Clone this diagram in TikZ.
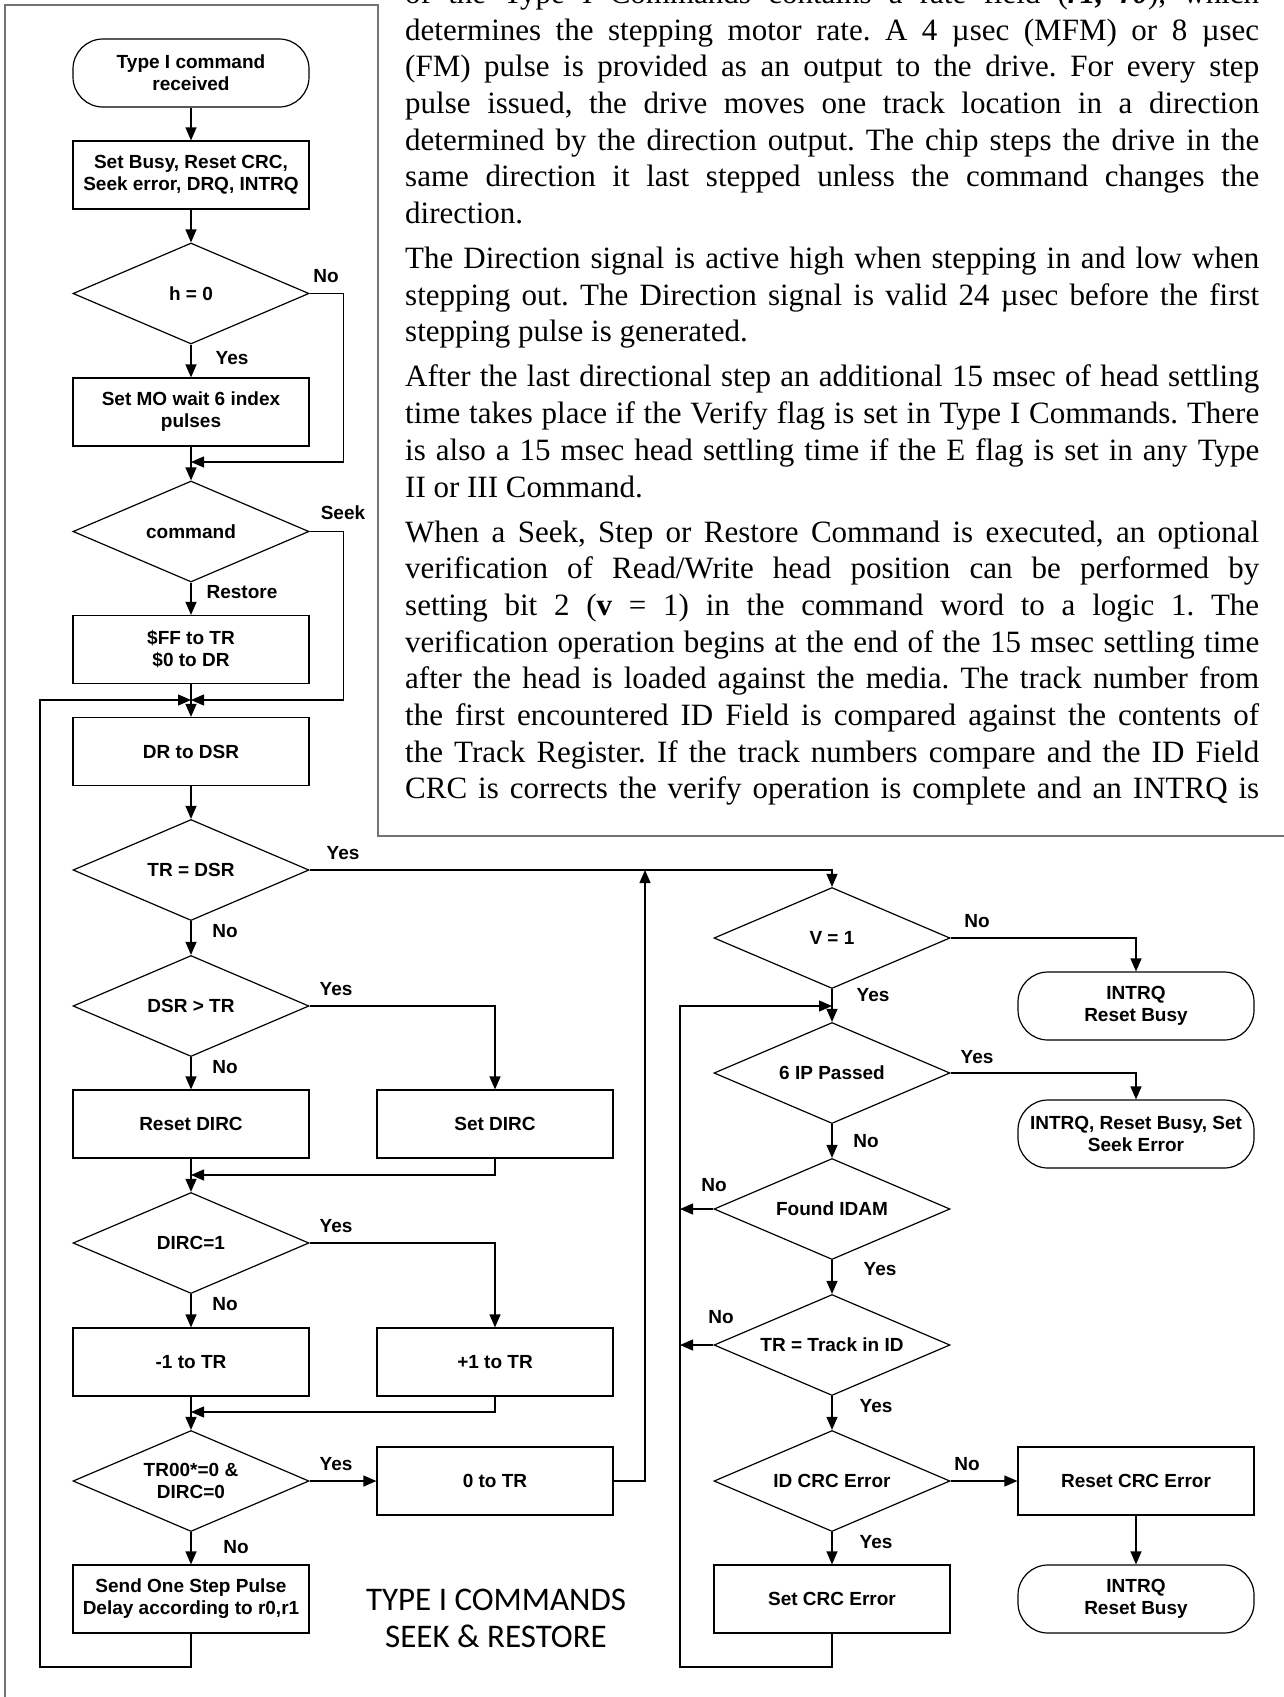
\documentclass[tikz,border=0pt]{standalone}
\usepackage{fontspec}
\setmainfont{Liberation Serif}
\setsansfont{Liberation Sans}
\newfontfamily\calfont{Carlito}
\usetikzlibrary{positioning, shapes.geometric, arrows.meta}
\frenchspacing

\tikzset{
	flow/.style={draw, line width=1.2pt, align=center, inner sep=0pt, font=\sffamily\bfseries\fontsize{19}{22}\selectfont},
	box/.style={flow, rectangle, minimum width=236pt, minimum height=68pt},
	term/.style={box, rounded corners=30pt},
	dec/.style={flow, diamond, aspect=2.34, minimum width=236pt, minimum height=101pt},
	lbl/.style={inner sep=0pt, font=\sffamily\bfseries\fontsize{19}{22}\selectfont},
	arr/.style={line width=1.2pt, -{Triangle[length=13pt,width=11pt]}},
	frame/.style={line width=1.5pt, black!55},
	txt/.style={anchor=base west, inner sep=0pt, font=\fontsize{31}{36.7}\selectfont},
}
\newcommand{\txtfull}[3]{\node[txt] (#1) at (405,#2) {\makebox[854pt][s]{#3}};}
\newcommand{\txtlast}[3]{\node[txt] (#1) at (405,#2) {#3};}

\begin{document}
\begin{tikzpicture}[x=1pt,y=-1pt]
	\useasboundingbox (0,0) rectangle (1284,1697);
	\draw[frame] (5,1697) -- (5,5) -- (378,5) -- (378,836) -- (1284,836);

	\txtfull{tA}{3.4}{of the Type I Commands contains a rate field (\textbf{\textit{r1, r0}}), which}
	\txtfull{tB}{40}{determines the stepping motor rate. A 4 µsec (MFM) or 8 µsec}
	\txtfull{tC}{76.7}{(FM) pulse is provided as an output to the drive. For every step}
	\txtfull{tD}{113.4}{pulse issued, the drive moves one track location in a direction}
	\txtfull{tE}{150.1}{determined by the direction output. The chip steps the drive in the}
	\txtfull{tF}{186.8}{same direction it last stepped unless the command changes the}
	\txtlast{tG}{223.5}{direction.}
	\txtfull{tH}{268.5}{The Direction signal is active high when stepping in and low when}
	\txtfull{tI}{305.2}{stepping out. The Direction signal is valid 24 µsec before the first}
	\txtlast{tJ}{341.9}{stepping pulse is generated.}
	\txtfull{tK}{386.9}{After the last directional step an additional 15 msec of head settling}
	\txtfull{tL}{423.6}{time takes place if the Verify flag is set in Type I Commands. There}
	\txtfull{tM}{460.3}{is also a 15 msec head settling time if the E flag is set in any Type}
	\txtlast{tN}{497}{II or III Command.}
	\txtfull{tO}{542}{When a Seek, Step or Restore Command is executed, an optional}
	\txtfull{tP}{578.7}{verification of Read/Write head position can be performed by}
	\txtfull{tQ}{615.4}{setting bit 2 (\textbf{v} = 1) in the command word to a logic 1. The}
	\txtfull{tR}{652.1}{verification operation begins at the end of the 15 msec settling time}
	\txtfull{tS}{688.8}{after the head is loaded against the media. The track number from}
	\txtfull{tT}{725.5}{the first encountered ID Field is compared against the contents of}
	\txtfull{tU}{762.2}{the Track Register. If the track numbers compare and the ID Field}
	\txtfull{tV}{798.9}{CRC is corrects the verify operation is complete and an INTRQ is}

	\node[term] (start) at (191,73) {Type I command\\received};
	\node[box] (busy) at (191,175) {Set Busy, Reset CRC,\\Seek error, DRQ, INTRQ};
	\node[dec] (hzero) at (191,293.5) {h = 0};
	\node[box] (motor) at (191,412) {Set MO wait 6 index\\pulses};
	\node[dec] (cmd) at (191,531.5) {command};
	\node[box] (ffto) at (191,649.5) {\$FF to TR\\\$0 to DR};
	\node[box] (drdsr) at (191,751.5) {DR to DSR};
	\node[dec] (treq) at (191,870) {TR = DSR};
	\node[dec] (dsrgt) at (191,1006) {DSR > TR};
	\node[box] (rdirc) at (191,1124) {Reset DIRC};
	\node[box] (sdirc) at (495,1124) {Set DIRC};
	\node[dec] (dirc) at (191,1243) {DIRC=1};
	\node[box] (decr) at (191,1362) {-1 to TR};
	\node[box] (incr) at (495,1362) {+1 to TR};
	\node[dec] (trzero) at (191,1481) {TR00*=0 \&\\DIRC=0};
	\node[box] (zero) at (495,1481) {0 to TR};
	\node[box] (pulse) at (191,1599) {Send One Step Pulse\\Delay according to r0,r1};

	\node[dec] (vone) at (832,938) {V = 1};
	\node[term] (endA) at (1136,1006) {INTRQ\\Reset Busy};
	\node[dec] (ipass) at (832,1073) {6 IP Passed};
	\node[term] (endB) at (1136,1134) {INTRQ, Reset Busy, Set\\Seek Error};
	\node[dec] (idam) at (832,1209) {Found IDAM};
	\node[dec] (trid) at (832,1345) {TR = Track in ID};
	\node[dec] (crc) at (832,1481) {ID CRC Error};
	\node[box] (rcrc) at (1136,1481) {Reset CRC Error};
	\node[box] (scrc) at (832,1599) {Set CRC Error};
	\node[term] (endC) at (1136,1599) {INTRQ\\Reset Busy};

	\node[font=\calfont\fontsize{33}{37}\selectfont, align=center, inner sep=0pt] (title) at (496,1618) {TYPE I COMMANDS\\SEEK \& RESTORE};

	\coordinate (jA) at (191,462);
	\coordinate (jB) at (191,700);
	\coordinate (jC) at (191,1175);
	\coordinate (jD) at (191,1412);
	\coordinate (jE) at (645,870);
	\coordinate (jF) at (832,1006);
	\coordinate (loopL) at (40,1667);
	\coordinate (loopR) at (680,1667);

	\draw[arr] (start) -- (busy);
	\draw[arr] (busy) -- (hzero);
	\draw[arr] (hzero) -- (motor);
	\draw[arr] (hzero.east) -- ++(34,0) |- (jA);
	\draw[arr] (motor) -- (cmd);
	\draw[arr] (cmd) -- (ffto);
	\draw[arr] (cmd.east) -- ++(34,0) |- (jB);
	\draw[arr] (ffto) -- (drdsr);
	\draw[arr] (pulse.south) |- (loopL) |- (jB);
	\draw[arr] (drdsr) -- (treq);
	\draw[arr] (treq) -- (dsrgt);
	\draw[arr] (treq.east) -| (vone.north);
	\draw[arr] (dsrgt) -- (rdirc);
	\draw[arr] (dsrgt.east) -| (sdirc.north);
	\draw[arr] (rdirc) -- (dirc);
	\draw[arr] (sdirc.south) |- (jC);
	\draw[arr] (dirc) -- (decr);
	\draw[arr] (dirc.east) -| (incr.north);
	\draw[arr] (decr) -- (trzero);
	\draw[arr] (incr.south) |- (jD);
	\draw[arr] (trzero) -- (pulse);
	\draw[arr] (trzero) -- (zero);
	\draw[arr] (zero.east) -| (jE);

	\draw[arr] (vone.east) -| (endA.north);
	\draw[arr] (vone) -- (ipass);
	\draw[arr] (ipass.east) -| (endB.north);
	\draw[arr] (ipass) -- (idam);
	\draw[arr] (idam.west) -- (idam.west -| loopR);
	\draw[arr] (idam) -- (trid);
	\draw[arr] (trid.west) -- (trid.west -| loopR);
	\draw[arr] (trid) -- (crc);
	\draw[arr] (crc) -- (rcrc);
	\draw[arr] (crc) -- (scrc);
	\draw[arr] (rcrc) -- (endC);
	\draw[arr] (scrc.south) |- (loopR) |- (jF);

	\node[lbl] (nA) at (326,276) {No};
	\node[lbl] (yA) at (232,358) {Yes};
	\node[lbl] (sk) at (343,513) {Seek};
	\node[lbl] (rs) at (242,592) {Restore};
	\node[lbl] (yB) at (343,853) {Yes};
	\node[lbl] (nB) at (225,931) {No};
	\node[lbl] (yC) at (336,989) {Yes};
	\node[lbl] (nC) at (225,1067) {No};
	\node[lbl] (yD) at (336,1226) {Yes};
	\node[lbl] (nD) at (225,1304) {No};
	\node[lbl] (yE) at (336,1464) {Yes};
	\node[lbl] (nE) at (236,1547) {No};
	\node[lbl] (nF) at (977,921) {No};
	\node[lbl] (yF) at (873,995) {Yes};
	\node[lbl] (yG) at (977,1057) {Yes};
	\node[lbl] (nG) at (866,1141) {No};
	\node[lbl] (nH) at (714,1185) {No};
	\node[lbl] (yH) at (880,1269) {Yes};
	\node[lbl] (nI) at (721,1317) {No};
	\node[lbl] (yI) at (876,1406) {Yes};
	\node[lbl] (nJ) at (967,1464) {No};
	\node[lbl] (yJ) at (876,1542) {Yes};
\end{tikzpicture}
\end{document}
